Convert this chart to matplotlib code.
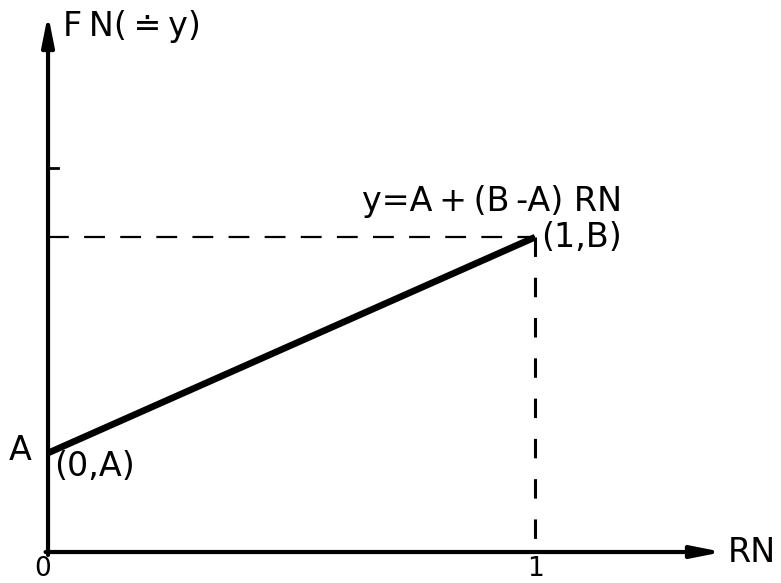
"""
Linear transformation of a random number RN into a value FN on [A, B].
Redrawn diagram: y = A + (B - A) RN.
"""

import matplotlib.pyplot as plt
from matplotlib.patches import FancyArrowPatch

plt.rcParams["lines.scale_dashes"] = False

# =========================================================
# DATA
# =========================================================

rn_pts = [0.0, 1.0]          # RN at the two ends of the line
fn_pts = [1.0, 3.18]         # FN values: A at RN=0, B at RN=1 (arbitrary units)
point_labels = ["(0,A)", "(1,B)"]
x_tick_labels = ["0", "1"]
axis_labels = ["RN", "F\u2009N(\u2009\u2250\u2009y)"]
equation = "y=A\u2009+\u2009(B\u2009-A) RN"

A_val, B_val = fn_pts

# =========================================================
# FIGURE / AXES (whole canvas is the drawing area)
# =========================================================

fig = plt.figure(figsize=(7.81, 5.83), dpi=100)
ax = fig.add_axes([0, 0, 1, 1])
ax.set_xlim(-0.0986, 1.505)
ax.set_ylim(-0.313, 5.576)
ax.axis("off")

fs = 24

# =========================================================
# AXES WITH ARROWS
# =========================================================

arrow_style = "-|>,head_length=1.0,head_width=0.2"

y_arrow = FancyArrowPatch((0, -0.03), (0, 5.43), arrowstyle=arrow_style,
                          mutation_scale=18, lw=3, color="black",
                          shrinkA=0, shrinkB=0)
ax.add_patch(y_arrow)

x_arrow = FancyArrowPatch((-0.005, 0), (1.385, 0), arrowstyle=arrow_style,
                          mutation_scale=18, lw=3, color="black",
                          shrinkA=0, shrinkB=0)
ax.add_patch(x_arrow)

# small tick on the FN axis
ax.plot([0, 0.02], [3.88, 3.88], color="black", lw=2)

# =========================================================
# GUIDE LINES AND MAIN LINE
# =========================================================

ax.plot([0, rn_pts[1]], [B_val, B_val], color="black", lw=1.6,
        linestyle=(0, (15, 11)))
ax.plot([rn_pts[1], rn_pts[1]], [B_val, 0], color="black", lw=2.2,
        linestyle=(0, (14, 15)))

ax.plot(rn_pts, fn_pts, color="black", lw=4.8, solid_capstyle="butt")

# =========================================================
# TEXT
# =========================================================

ax.text(0.03, 5.31, axis_labels[1], fontsize=fs, va="center", ha="left")
ax.text(1.395, 0, axis_labels[0], fontsize=fs, va="center", ha="left")

ax.text(-0.012, -0.30, x_tick_labels[0], fontsize=19, va="bottom", ha="center")
ax.text(rn_pts[1], -0.30, x_tick_labels[1], fontsize=19, va="bottom", ha="center")

ax.text(-0.033, A_val + 0.03, "A", fontsize=fs, va="center", ha="right")
ax.text(0.012, A_val - 0.14, point_labels[0], fontsize=fs, va="center", ha="left")
ax.text(rn_pts[1] + 0.012, B_val, point_labels[1], fontsize=fs, va="center", ha="left")
ax.text(0.645, B_val + 0.36, equation, fontsize=fs, va="center", ha="left")

fig.savefig("out.png", dpi=100)
